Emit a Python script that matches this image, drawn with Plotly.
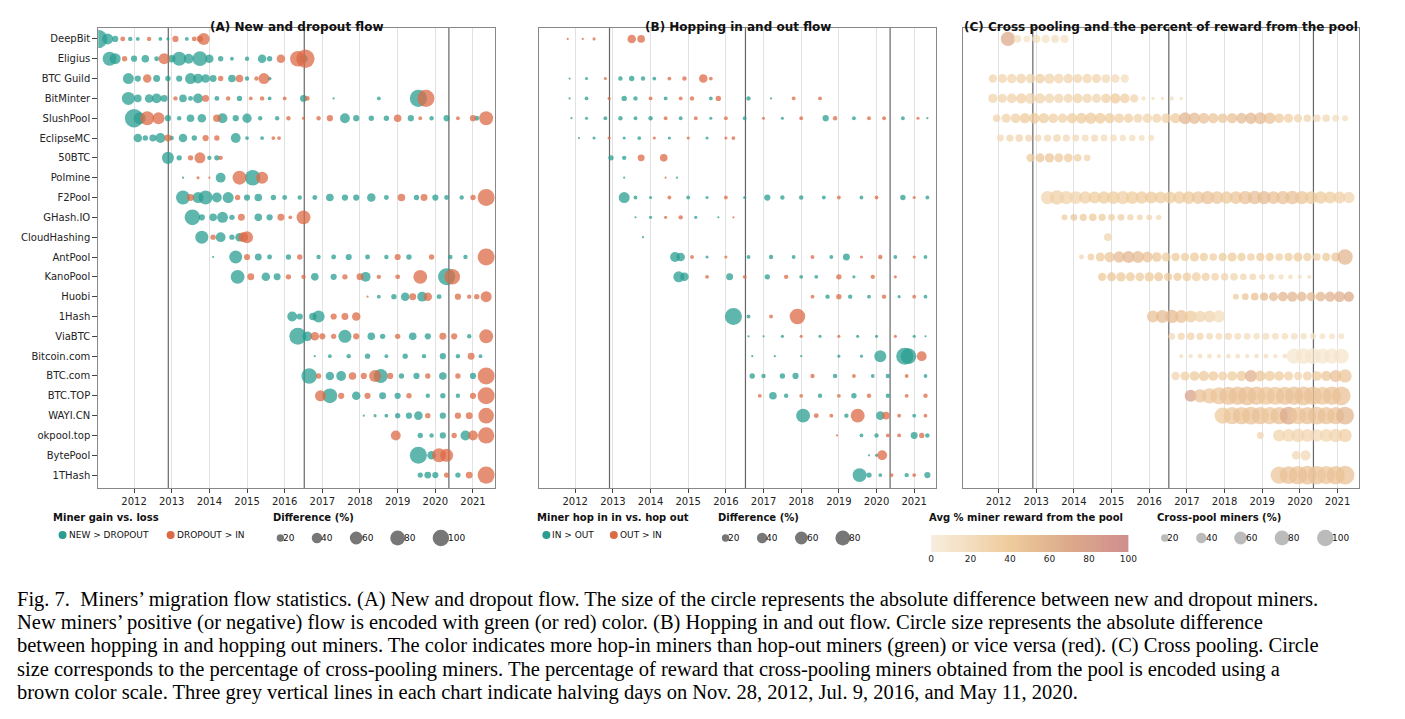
import plotly.graph_objects as go
import numpy as np

pools = ["DeepBit", "Eligius", "BTC Guild", "BitMinter", "SlushPool", "EclipseMC", "50BTC",
         "Polmine", "F2Pool", "GHash.IO", "CloudHashing", "AntPool", "KanoPool", "Huobi",
         "1Hash", "ViaBTC", "Bitcoin.com", "BTC.com", "BTC.TOP", "WAYI.CN", "okpool.top",
         "BytePool", "1THash"]
years = [2012, 2013, 2014, 2015, 2016, 2017, 2018, 2019, 2020, 2021]
halvings = [2012.91, 2016.52, 2020.36]

# (A) new vs dropout: (time, diff %), positive = new > dropout, negative = dropout > new
flow_a = {
    "DeepBit": [(2011.05, 70), (2011.3, 25), (2011.5, 8), (2011.7, -5), (2011.9, 4), (2012.1, 3), (2012.4, -4),
                (2012.7, 3), (2012.9, 2), (2013.1, -8), (2013.4, 3), (2013.6, -5), (2013.75, -8), (2013.85, -30)],
    "Eligius": [(2011.35, 40), (2011.5, 25), (2011.75, -6), (2012.0, 8), (2012.3, 12), (2012.6, 5), (2012.8, -25),
                (2013.0, 12), (2013.2, 40), (2013.45, 20), (2013.75, 45), (2014.0, 15), (2014.3, 6), (2014.6, 3),
                (2015.0, 4), (2015.4, 15), (2015.6, 6), (2015.9, -15), (2016.35, -50), (2016.55, -70), (2016.5, 15)],
    "BTC Guild": [(2011.85, 25), (2012.1, 8), (2012.35, -15), (2012.6, 10), (2012.9, 6), (2013.2, 8), (2013.5, 25),
                  (2013.7, 20), (2013.9, 15), (2014.1, 10), (2014.3, -6), (2014.6, 12), (2014.8, -12), (2015.0, 4),
                  (2015.25, -4), (2015.45, -25), (2015.6, 3)],
    "BitMinter": [(2011.85, 35), (2012.1, 12), (2012.4, 15), (2012.6, 20), (2012.8, 10), (2013.1, -4), (2013.3, 12),
                  (2013.5, 5), (2013.7, 20), (2013.9, -10), (2014.2, 5), (2014.5, -4), (2014.8, 6), (2015.1, -3),
                  (2015.4, -4), (2015.6, 3), (2016.0, -3), (2016.5, 10), (2016.6, -5), (2017.3, 1), (2018.5, 3),
                  (2019.55, 60), (2019.75, -60)],
    "SlushPool": [(2012.0, 70), (2012.15, 30), (2012.35, -40), (2012.65, -30), (2012.9, 8), (2013.2, 4), (2013.5, 12),
                  (2013.8, 15), (2014.2, -12), (2014.35, 20), (2014.7, 8), (2015.0, 18), (2015.35, 4), (2015.8, 4),
                  (2016.1, -4), (2016.5, -2), (2016.9, -4), (2017.2, -8), (2017.6, 20), (2017.9, 8), (2018.3, 6),
                  (2018.7, 6), (2019.0, -12), (2019.35, 8), (2019.6, -3), (2019.9, 4), (2020.3, 8), (2020.6, -3),
                  (2021.0, -8), (2021.1, 5), (2021.35, -40)],
    "EclipseMC": [(2012.1, 15), (2012.3, 6), (2012.5, 10), (2012.7, 20), (2012.9, -10), (2013.0, 4), (2013.3, 15),
                  (2013.6, 6), (2013.9, -8), (2014.2, -6), (2014.7, 20), (2015.0, 3), (2015.4, 3), (2015.7, -3),
                  (2015.85, -3)],
    "50BTC": [(2012.9, 30), (2013.2, 6), (2013.5, -6), (2013.75, -25), (2014.0, 4), (2014.2, 6), (2014.3, -4)],
    "Polmine": [(2013.3, 1), (2013.7, -2), (2014.0, -1), (2014.3, 20), (2014.8, -40), (2015.15, 50), (2015.4, -30)],
    "F2Pool": [(2013.3, 40), (2013.5, -10), (2013.7, 25), (2013.9, 40), (2014.2, 20), (2014.5, 25), (2014.75, -6),
               (2015.0, 8), (2015.3, 12), (2015.7, 6), (2016.0, 5), (2016.4, 4), (2016.8, 5), (2017.2, 12),
               (2017.6, 8), (2017.9, 8), (2018.3, 15), (2018.7, 5), (2019.1, -12), (2019.5, 6), (2019.7, -10),
               (2020.0, 8), (2020.3, 5), (2020.7, 4), (2021.0, -6), (2021.35, -60)],
    "GHash.IO": [(2013.55, 50), (2013.8, 8), (2014.1, 12), (2014.35, 25), (2014.6, 6), (2014.85, -10), (2015.3, 12),
                 (2015.6, 8), (2015.9, -10), (2016.15, -3), (2016.5, -40)],
    "CloudHashing": [(2013.8, 35), (2014.1, -6), (2014.3, 20), (2014.6, 6), (2014.8, 15), (2014.9, -20), (2015.0, -30)],
    "AntPool": [(2014.1, 1), (2014.7, 35), (2015.0, -8), (2015.3, 10), (2015.6, 5), (2016.1, 6), (2016.4, -6),
                (2016.9, 4), (2017.3, 5), (2017.7, 8), (2018.2, 5), (2018.7, 4), (2019.0, -8), (2019.3, 6),
                (2019.9, -6), (2020.4, 4), (2020.8, 4), (2021.35, -60)],
    "KanoPool": [(2014.75, 40), (2015.1, -10), (2015.5, 15), (2015.8, 10), (2016.1, -6), (2016.5, -4), (2016.8, 12),
                 (2017.3, 8), (2017.6, -6), (2018.0, -10), (2018.15, 20), (2018.5, -4), (2019.0, -5), (2019.6, -40),
                 (2020.3, 60), (2020.45, -50)],
    "Huobi": [(2018.2, -1), (2018.5, 3), (2018.9, 6), (2019.2, 15), (2019.4, -10), (2019.65, 20), (2019.8, -15),
              (2020.1, 5), (2020.6, -8), (2020.9, -4), (2021.1, -6), (2021.35, -25)],
    "1Hash": [(2016.2, 20), (2016.4, 8), (2016.75, 12), (2016.9, 30), (2017.3, -8), (2017.6, -10), (2017.9, -15)],
    "ViaBTC": [(2016.35, 60), (2016.6, 20), (2016.8, -15), (2017.0, -8), (2017.3, -6), (2017.6, 35), (2017.9, -8),
               (2018.3, 12), (2018.6, 6), (2019.0, -6), (2019.4, 12), (2019.8, 8), (2020.2, -10), (2020.5, -8),
               (2020.9, 4), (2021.35, -40)],
    "Bitcoin.com": [(2016.8, 1), (2017.2, 3), (2017.7, 4), (2018.2, 6), (2018.7, 3), (2019.2, 6), (2019.7, 4),
                    (2020.2, 8), (2020.6, 4), (2020.95, -10), (2021.2, 3)],
    "BTC.com": [(2016.65, 50), (2016.9, -6), (2017.2, 15), (2017.5, 20), (2017.8, -12), (2018.1, -8), (2018.4, -30),
                (2018.55, 40), (2018.8, -8), (2019.1, 6), (2019.5, 8), (2019.8, -6), (2020.2, 12), (2020.6, -6),
                (2021.0, 8), (2021.35, -60)],
    "BTC.TOP": [(2016.95, -25), (2017.2, 45), (2017.5, -8), (2017.9, 15), (2018.2, -8), (2018.6, 10), (2019.0, 8),
                (2019.3, -6), (2019.8, 4), (2020.2, 6), (2020.6, 4), (2021.0, -8), (2021.35, -60)],
    "WAYI.CN": [(2018.1, 1), (2018.4, 2), (2018.7, 3), (2019.0, 6), (2019.3, 8), (2019.55, 15), (2019.8, -6),
                (2020.2, 8), (2020.6, -8), (2020.9, -10), (2021.35, -50)],
    "okpool.top": [(2018.95, -20), (2019.6, 6), (2019.9, 4), (2020.2, 8), (2020.5, -6), (2020.8, 20), (2021.0, -20),
                   (2021.35, -55)],
    "BytePool": [(2019.55, 60), (2019.9, 15), (2020.1, -40), (2020.3, -35)],
    "1THash": [(2019.6, 6), (2019.8, 10), (2020.0, 8), (2020.3, -6), (2020.6, 6), (2020.9, -10), (2021.35, -60)],
}

# (B) hop in vs hop out: positive = in > out
flow_b = {
    "DeepBit": [(2011.8, -1), (2012.2, -1), (2012.5, -2), (2013.5, -15), (2013.75, -12)],
    "BTC Guild": [(2011.85, 1), (2012.3, 2), (2012.8, -2), (2013.2, 4), (2013.5, 6), (2013.8, 4), (2014.1, 3),
                  (2014.5, -3), (2014.9, -4), (2015.4, -15), (2015.6, -3)],
    "BitMinter": [(2011.85, 1), (2012.3, 3), (2012.9, -2), (2013.3, 6), (2013.6, 4), (2014.0, -3), (2014.4, 3),
                  (2014.8, -3), (2015.1, -4), (2015.6, 3), (2015.8, -6), (2016.6, 4), (2017.2, 1), (2017.8, -3),
                  (2018.5, -3)],
    "SlushPool": [(2011.9, 1), (2012.3, 2), (2012.8, 3), (2013.2, 4), (2013.6, 3), (2014.0, 4), (2014.4, -3),
                  (2014.8, 3), (2015.2, -3), (2015.6, 2), (2016.0, -3), (2016.5, 3), (2017.0, -2), (2017.5, 2),
                  (2018.0, -3), (2018.65, 8), (2018.9, -4), (2019.4, 3), (2019.8, -3), (2020.2, -3), (2020.7, 3),
                  (2021.1, -2), (2021.35, 1)],
    "EclipseMC": [(2012.1, 1), (2012.5, 2), (2012.9, -2), (2013.3, 2), (2013.7, 3), (2014.1, -2), (2014.5, 2),
                  (2015.0, -2), (2015.5, 2), (2016.0, -2), (2016.2, -3)],
    "50BTC": [(2012.95, 6), (2013.3, 4), (2013.75, -10), (2014.35, -12)],
    "Polmine": [(2013.3, 1), (2014.4, -1), (2014.7, 1)],
    "F2Pool": [(2013.3, 25), (2013.6, 3), (2014.0, 2), (2014.5, -3), (2015.0, 3), (2015.5, 2), (2016.0, -3),
               (2016.5, 2), (2017.1, 8), (2017.5, 4), (2018.0, 4), (2018.6, 3), (2019.0, -3), (2019.6, 3),
               (2020.0, -3), (2020.7, 6), (2021.0, -2), (2021.35, 3)],
    "GHash.IO": [(2013.6, 1), (2014.0, 2), (2014.4, -2), (2014.8, -4), (2015.2, 2), (2015.8, 1), (2016.2, -1)],
    "CloudHashing": [(2013.8, 1)],
    "AntPool": [(2014.65, 20), (2014.8, 15), (2015.1, -3), (2015.5, 2), (2016.0, -2), (2016.6, 3), (2017.2, 4),
                (2017.8, 3), (2018.3, -3), (2018.8, 3), (2019.2, 10), (2019.6, -2), (2020.1, -4), (2020.5, 3),
                (2021.0, -2), (2021.3, 3)],
    "KanoPool": [(2014.75, 25), (2014.9, 15), (2015.5, -3), (2016.1, 10), (2016.5, -3), (2017.1, 6), (2017.6, -4),
                 (2018.0, 3), (2018.4, 3), (2019.0, -6), (2019.4, 2), (2019.9, -4), (2020.5, -2)],
    "Huobi": [(2018.3, -3), (2018.7, 4), (2019.0, -6), (2019.3, 4), (2019.8, 3), (2020.2, -4), (2020.6, 2),
              (2021.0, -3), (2021.3, 3)],
    "1Hash": [(2016.2, 60), (2016.6, 3), (2017.2, -3), (2017.9, -50)],
    "ViaBTC": [(2016.6, 1), (2017.0, 1), (2017.5, 2), (2018.0, -2), (2018.5, 2), (2019.0, -2), (2019.5, 2),
               (2020.0, 2), (2020.5, -2), (2021.0, 2), (2021.3, 1)],
    "Bitcoin.com": [(2016.7, 1), (2017.3, 1), (2018.0, 1), (2019.0, 2), (2019.6, 2), (2020.1, 30), (2020.75, 60),
                    (2020.85, 50), (2021.2, -20)],
    "BTC.com": [(2016.7, 6), (2017.0, 4), (2017.5, 6), (2017.85, 8), (2018.3, -4), (2018.9, 4), (2019.4, -3),
                (2019.9, 3), (2020.3, 4), (2020.8, -3), (2021.3, 3)],
    "BTC.TOP": [(2016.9, -3), (2017.25, 12), (2017.6, 4), (2018.0, -3), (2018.5, 4), (2019.0, -3), (2019.4, 6),
                (2019.8, -4), (2020.3, 4), (2020.8, -3), (2021.3, -4)],
    "WAYI.CN": [(2018.05, 40), (2018.4, -5), (2018.8, -3), (2019.2, 4), (2019.5, -40), (2020.1, 15), (2020.25, -12),
                (2020.6, -3), (2021.0, 3), (2021.3, -3)],
    "okpool.top": [(2018.95, -1), (2019.6, 3), (2020.0, 4), (2020.3, -3), (2020.6, -3), (2021.0, 10), (2021.2, -6),
                   (2021.35, 4)],
    "BytePool": [(2019.8, 1), (2020.0, 2), (2020.15, -20)],
    "1THash": [(2019.55, 40), (2019.8, 6), (2020.1, 3), (2020.4, -3), (2020.8, 4), (2021.0, -3), (2021.35, 8)],
}

# (C) cross pooling: quarterly samples starting at a year -> (cross-pool %, avg reward %)
cross_c = {
    "DeepBit": (2012.25, [35, 10, 8, 12, 12, 10, 12], [70, 20, 15, 20, 15, 20, 15]),
    "BTC Guild": (2011.85, [12, 14, 15, 16, 15, 16, 18, 16, 15, 14, 15, 14, 13, 12, 12],
                  [30, 30, 28, 32, 30, 35, 30, 28, 30, 30, 28, 30, 25, 25, 20]),
    "BitMinter": (2011.85, [15, 14, 16, 18, 20, 18, 16, 15, 14, 16, 15, 14, 15, 18, 16, 12, 3, 2, 2, 3, 2],
                  [30, 30, 32, 35, 30, 30, 28, 30, 30, 32, 30, 30, 35, 40, 35, 30, 20, 20, 20, 20, 20]),
    "SlushPool": (2011.95, [10, 14, 16, 18, 20, 18, 16, 15, 18, 20, 22, 20, 18, 16, 15, 14, 15, 14, 16, 18,
                            24, 22, 20, 18, 16, 18, 20, 22, 24, 22, 16, 14, 12, 10, 10, 10, 8, 6],
                  [30, 32, 35, 40, 40, 38, 35, 35, 38, 40, 42, 40, 38, 35, 35, 30, 30, 32, 35, 40,
                   60, 55, 50, 45, 45, 50, 55, 60, 55, 50, 40, 35, 30, 30, 25, 25, 20, 20]),
    "EclipseMC": (2012.05, [8, 9, 10, 9, 8, 9, 10, 9, 8, 8, 9, 8, 8, 7, 7, 6, 6],
                  [25, 28, 30, 28, 25, 25, 28, 25, 25, 22, 25, 22, 20, 20, 20, 20, 20]),
    "50BTC": (2012.85, [12, 14, 15, 14, 13, 10, 8], [40, 45, 45, 40, 40, 35, 30]),
    "F2Pool": (2013.3, [30, 35, 30, 28, 26, 25, 26, 28, 30, 28, 26, 25, 24, 25, 26, 28, 28, 30, 28, 26,
                        28, 30, 32, 30, 28, 30, 32, 30, 28, 26, 25, 24, 22],
               [30, 35, 32, 30, 35, 38, 40, 38, 35, 38, 40, 42, 40, 38, 40, 42, 45, 48, 45, 42,
                45, 50, 52, 55, 50, 48, 50, 45, 42, 40, 38, 35, 30]),
    "GHash.IO": (2013.75, [6, 8, 9, 10, 9, 8, 8, 7, 6, 6, 5], [40, 45, 42, 40, 38, 35, 35, 30, 30, 28, 25]),
    "CloudHashing": (2014.9, [10], [30]),
    "AntPool": (2014.2, [4, 8, 14, 18, 22, 25, 24, 20, 16, 14, 12, 12, 14, 12, 10, 12, 14, 12, 10, 12,
                         12, 10, 12, 14, 12, 10, 12, 14, 40],
                [30, 35, 40, 45, 55, 60, 55, 50, 45, 40, 40, 38, 40, 38, 35, 38, 40, 38, 35, 40,
                 38, 35, 38, 40, 38, 35, 40, 45, 60]),
    "KanoPool": (2014.75, [12, 14, 15, 14, 13, 15, 14, 12, 12, 13, 14, 12, 10, 10, 10, 8, 8, 6, 6, 5, 4, 3, 3],
                 [40, 45, 42, 40, 38, 40, 45, 42, 40, 38, 35, 35, 32, 30, 30, 28, 28, 25, 25, 20, 20, 20, 20]),
    "Huobi": (2018.3, [6, 8, 10, 12, 14, 16, 18, 16, 14, 16, 18, 20, 18], [40, 45, 50, 55, 55, 60, 60, 58, 55, 60, 62, 65, 70]),
    "1Hash": (2016.1, [25, 28, 30, 28, 25, 22, 24, 26], [50, 55, 55, 50, 40, 30, 30, 20]),
    "ViaBTC": (2016.6, [8, 9, 10, 9, 8, 8, 9, 8, 8, 7, 8, 8, 7, 8, 7, 7, 6, 6, 6],
               [25, 28, 30, 28, 25, 22, 25, 22, 20, 20, 22, 20, 20, 18, 18, 15, 15, 15, 15]),
    "Bitcoin.com": (2016.85, [3, 3, 4, 4, 3, 4, 4, 3, 4, 4, 3, 4, 40, 42, 42, 40, 40, 38],
                    [20, 20, 20, 20, 20, 20, 20, 20, 20, 20, 20, 20, 10, 10, 10, 10, 10, 12]),
    "BTC.com": (2016.7, [12, 14, 16, 18, 16, 14, 16, 18, 25, 20, 18, 16, 14, 12, 14, 16, 18, 25, 30],
                [30, 35, 40, 42, 40, 35, 38, 42, 65, 45, 40, 38, 35, 30, 35, 40, 45, 50, 45]),
    "BTC.TOP": (2017.1, [25, 30, 40, 50, 55, 58, 60, 58, 56, 55, 56, 58, 60, 58, 56, 58, 60],
                [80, 50, 45, 45, 48, 50, 50, 48, 45, 45, 48, 50, 50, 48, 45, 48, 50]),
    "WAYI.CN": (2017.95, [45, 50, 52, 55, 52, 50, 52, 55, 50, 52, 55, 52, 50, 55],
                [40, 45, 48, 50, 48, 45, 48, 70, 45, 48, 50, 48, 50, 60]),
    "okpool.top": (2018.95, [8, 0, 25, 28, 30, 28, 26, 28, 30, 30], [30, 0, 30, 28, 30, 28, 25, 28, 30, 35]),
    "BytePool": (2019.9, [12, 18], [25, 25]),
    "1THash": (2019.45, [50, 55, 58, 60, 58, 56, 58, 60], [45, 48, 50, 50, 48, 45, 48, 50]),
}

GREEN = "#2a9d91"
RED = "#dc6a45"
BROWN = [[0, "#f8eedf"], [0.4, "#efcb9c"], [0.7, "#dcaa8a"], [1, "#cf8e8e"]]
FONT = "DejaVu Sans"
W, H = 1405, 719


def px_x(p):
    return p / W


def px_y(p):
    return 1 - p / H


def size_of(v):
    return np.sqrt(np.abs(np.array(v, dtype=float))) * 2.2


fig = go.Figure()
panels = [(88, 488), (533, 933), (960, 1360)]
titles = ["(A) New and dropout flow", "(B) Hopping in and out flow",
          "(C) Cross pooling and the percent of reward from the pool"]

for k, data in enumerate([flow_a, flow_b]):
    ax = "" if k == 0 else str(k + 1)
    for sign, col in [(1, GREEN), (-1, RED)]:
        xs, ys, vs = [], [], []
        for i, p in enumerate(pools):
            for t, v in data.get(p, []):
                if np.sign(v) == sign:
                    xs.append(t); ys.append(i); vs.append(v)
        fig.add_trace(go.Scatter(x=xs, y=ys, mode="markers", xaxis="x" + ax, yaxis="y" + ax,
                                 marker=dict(size=size_of(vs), color=col, opacity=0.75, line_width=0),
                                 showlegend=False, hoverinfo="skip"))

xs, ys, vs, cs = [], [], [], []
for i, p in enumerate(pools):
    if p not in cross_c:
        continue
    start, sizes, rewards = cross_c[p]
    for j, (s, r) in enumerate(zip(sizes, rewards)):
        if s > 0:
            xs.append(start + 0.25 * j); ys.append(i); vs.append(s); cs.append(r)
fig.add_trace(go.Scatter(x=xs, y=ys, mode="markers", xaxis="x3", yaxis="y3",
                         marker=dict(size=size_of(vs) * 1.1, color=cs, colorscale=BROWN, cmin=0, cmax=100,
                                     opacity=0.75, line_width=0),
                         showlegend=False, hoverinfo="skip"))

# gradient bar for colour legend
fig.add_trace(go.Heatmap(z=[list(range(0, 101))], x=list(range(0, 101)), y=[0], colorscale=BROWN,
                         showscale=False, xaxis="x4", yaxis="y4", hoverinfo="skip"))

shapes = []
annotations = []
ydom = [px_y(480), px_y(20)]
for k, (l, r) in enumerate(panels):
    ax = "" if k == 0 else str(k + 1)
    fig.update_layout(**{
        "xaxis" + ax: dict(domain=[px_x(l), px_x(r)], range=[2011.05, 2021.58], anchor="y" + ax,
                           tickvals=years, ticks="outside", ticklen=4, showgrid=True, gridcolor="#e2e2e2",
                           zeroline=False, showline=True, linecolor="#888", mirror=True,
                           tickfont=dict(family=FONT, size=10, color="#222")),
        "yaxis" + ax: dict(domain=ydom, range=[22.65, -0.55], anchor="x" + ax, showgrid=False, zeroline=False,
                           showline=True, linecolor="#888", mirror=True,
                           tickvals=list(range(len(pools))), ticktext=pools if k == 0 else None,
                           showticklabels=(k == 0), ticks="outside" if k == 0 else "", ticklen=5,
                           tickfont=dict(family=FONT, size=10, color="#222")),
    })
    for h in halvings:
        shapes.append(dict(type="line", xref="x" + ax, yref="y" + ax + " domain", x0=h, x1=h, y0=0, y1=1,
                           line=dict(color="#666", width=1.2), layer="below"))
    annotations.append(dict(text="<b>" + titles[k] + "</b>", x=px_x((l + r) / 2), y=px_y(10), xref="paper",
                            yref="paper", xanchor="center", showarrow=False,
                            font=dict(family=FONT, size=12, color="#111")))

fig.update_layout(
    xaxis4=dict(domain=[px_x(928), px_x(1127)], range=[0, 100], anchor="y4", tickvals=[0, 20, 40, 60, 80, 100],
                ticks="", showgrid=False, zeroline=False, tickfont=dict(family=FONT, size=9, color="#222")),
    yaxis4=dict(domain=[px_y(544), px_y(527)], anchor="x4", visible=False),
)


def label(text, x, y, bold=False, size=10):
    annotations.append(dict(text=("<b>%s</b>" % text) if bold else text, x=px_x(x), y=px_y(y), xref="paper",
                            yref="paper", xanchor="left", showarrow=False,
                            font=dict(family=FONT, size=size, color="#111")))


def dot(x, y, d, col, op=1.0):
    y = y - 7
    shapes.append(dict(type="circle", xref="paper", yref="paper", xsizemode="pixel", ysizemode="pixel",
                       xanchor=px_x(x), yanchor=px_y(y), x0=-d / 2, x1=d / 2, y0=-d / 2, y1=d / 2,
                       fillcolor=col, line_width=0, opacity=op))


label("Miner gain vs. loss", 40, 517, bold=True)
dot(52, 534, 8, GREEN); label("NEW > DROPOUT", 56, 534, size=9)
dot(161, 534, 8, RED); label("DROPOUT > IN", 165, 534, size=9)
label("Miner hop in in vs. hop out", 529, 517, bold=True)
dot(540, 534, 8, GREEN); label("IN > OUT", 544, 534, size=9)
dot(608, 534, 8, RED); label("OUT > IN", 612, 534, size=9)
label("Avg % miner reward from the pool", 924, 517, bold=True)

for base, vals, title, col in [(268, [20, 40, 60, 80, 100], "Difference (%)", "#777"),
                               (717, [20, 40, 60, 80], "Difference (%)", "#777"),
                               (1160, [20, 40, 60, 80, 100], "Cross-pool miners (%)", "#bbb")]:
    label(title, base - 6, 517, bold=True)
    x = base
    for v in vals:
        d = float(size_of([v])[0]) * 0.75
        dot(x + d / 2, 537, d, col)
        label(str(v), x + d - 3, 537, size=9)
        x += d + 28

caption = [
    "Fig. 7.  Miners’ migration flow statistics. (A) New and dropout flow. The size of the circle represents the absolute difference between new and dropout miners.",
    "New miners’ positive (or negative) flow is encoded with green (or red) color. (B) Hopping in and out flow. Circle size represents the absolute difference",
    "between hopping in and hopping out miners. The color indicates more hop-in miners than hop-out miners (green) or vice versa (red). (C) Cross pooling. Circle",
    "size corresponds to the percentage of cross-pooling miners. The percentage of reward that cross-pooling miners obtained from the pool is encoded using a",
    "brown color scale. Three grey vertical lines in each chart indicate halving days on Nov. 28, 2012, Jul. 9, 2016, and May 11, 2020.",
]
for i, line in enumerate(caption):
    annotations.append(dict(text=line, x=px_x(4), y=px_y(605 + 23.2 * i), xref="paper", yref="paper",
                            xanchor="left", showarrow=False,
                            font=dict(family="Liberation Serif", size=20.5, color="#000")))

fig.update_layout(width=W, height=H, margin=dict(l=0, r=0, t=0, b=0), plot_bgcolor="white",
                  paper_bgcolor="white", shapes=shapes, annotations=annotations, showlegend=False)
fig.write_html("out.html")
